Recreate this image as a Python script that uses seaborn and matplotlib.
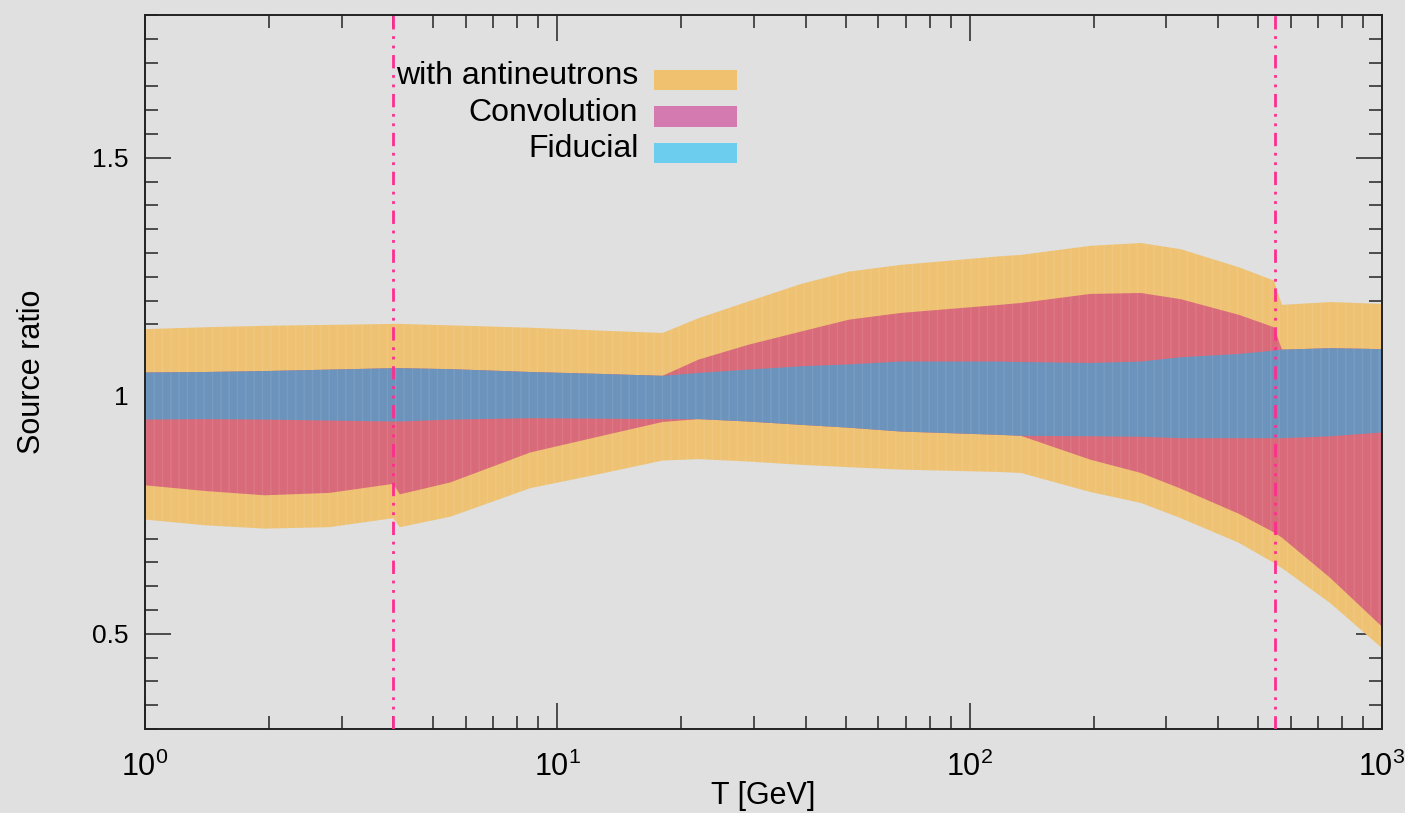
import numpy as np
import pandas as pd
import matplotlib
matplotlib.use("Agg")
import matplotlib.pyplot as plt
import seaborn as sns
from matplotlib.patches import Patch, Rectangle
from matplotlib.legend_handler import HandlerPatch
from matplotlib.ticker import LogLocator, MultipleLocator, FuncFormatter, NullFormatter, FixedLocator

# ---------------- data ----------------
T = [1, 1.4, 1.95, 2.8, 4.0, 4.15, 5.5, 8.6, 12.7, 18, 22, 29, 39, 51, 68,
     118, 133, 196, 260, 325, 450, 547, 572, 750, 1000]

ant_hi = [1.140, 1.144, 1.147, 1.149, 1.151, 1.151, 1.148, 1.143, 1.137, 1.132,
          1.163, 1.198, 1.235, 1.261, 1.275, 1.293, 1.296, 1.315, 1.321, 1.308,
          1.270, 1.242, 1.191, 1.197, 1.193]
ant_lo = [0.740, 0.728, 0.721, 0.724, 0.743, 0.724, 0.746, 0.806, 0.836, 0.864,
          0.867, 0.862, 0.855, 0.850, 0.845, 0.840, 0.838, 0.798, 0.775, 0.743,
          0.691, 0.649, 0.638, 0.564, 0.470]

conv_hi = [1.049, 1.050, 1.052, 1.055, 1.058, 1.058, 1.056, 1.050, 1.046, 1.042,
           1.076, 1.107, 1.135, 1.160, 1.174, 1.191, 1.195, 1.214, 1.216, 1.203,
           1.170, 1.144, 1.097, 1.100, 1.098]
conv_lo = [0.812, 0.800, 0.791, 0.796, 0.815, 0.793, 0.818, 0.881, 0.915, 0.945,
           0.951, 0.946, 0.939, 0.933, 0.925, 0.918, 0.916, 0.866, 0.838, 0.805,
           0.752, 0.713, 0.702, 0.617, 0.515]

fid_hi = [1.049, 1.050, 1.052, 1.055, 1.058, 1.058, 1.056, 1.050, 1.046, 1.042,
          1.048, 1.055, 1.062, 1.066, 1.072, 1.072, 1.071, 1.069, 1.072, 1.081,
          1.088, 1.095, 1.097, 1.100, 1.098]
fid_lo = [0.950, 0.951, 0.950, 0.948, 0.946, 0.946, 0.950, 0.953, 0.952, 0.951,
          0.951, 0.946, 0.939, 0.933, 0.925, 0.918, 0.916, 0.915, 0.914, 0.911,
          0.911, 0.911, 0.911, 0.915, 0.923]

vline_T = [4.0, 550.0]
legend_labels = ["with antineutrons", "Convolution", "Fiducial"]
y_major = [0.5, 1.0, 1.5]

# ---------------- style ----------------
BG = "#dfe0df"
band_colors = ["#eec272", "#d96a7a", "#6b93bb"]
legend_colors = ["#f0c270", "#d47ab1", "#6dcdef"]
VLINE = "#ff2d8f"

sns.set_theme(style="ticks", rc={
    "axes.facecolor": BG, "figure.facecolor": BG,
    "axes.edgecolor": "#222222", "axes.linewidth": 1.4,
    "text.color": "black", "axes.labelcolor": "black",
    "xtick.color": "#333333", "ytick.color": "#333333",
})
plt.rcParams["font.family"] = ["Liberation Sans", "DejaVu Sans"]
plt.rcParams["mathtext.fontset"] = "custom"
plt.rcParams["mathtext.rm"] = "Liberation Sans"
plt.rcParams["mathtext.it"] = "Liberation Sans"
plt.rcParams["mathtext.default"] = "regular"
plt.rcParams["hatch.linewidth"] = 1.0

fig, ax = plt.subplots(figsize=(14.05, 8.13), dpi=100)
fig.subplots_adjust(left=145 / 1405, right=1382 / 1405, top=1 - 15 / 813, bottom=1 - 729 / 813)

df = pd.DataFrame({"T": T, "ant_lo": ant_lo, "ant_hi": ant_hi,
                   "conv_lo": conv_lo, "conv_hi": conv_hi,
                   "fid_lo": fid_lo, "fid_hi": fid_hi})

for (lo, hi), col in zip([("ant_lo", "ant_hi"), ("conv_lo", "conv_hi"), ("fid_lo", "fid_hi")],
                         band_colors):
    ax.fill_between(df["T"], df[lo], df[hi], facecolor=col,
                    edgecolor=(1, 1, 1, 0.09), hatch="||", linewidth=0, zorder=2)

for xv in vline_T:
    ax.axvline(xv, color=VLINE, lw=2.0, dashes=(4.8, 2.4, 1.0, 2.4, 1.0, 2.4), zorder=3)

ax.set_xscale("log")
ax.set_xlim(1, 1000)
ax.set_ylim(0.3, 1.8)

ax.xaxis.set_major_locator(LogLocator(base=10, numticks=10))
ax.xaxis.set_minor_locator(LogLocator(base=10, subs=np.arange(2, 10), numticks=100))
ax.xaxis.set_minor_formatter(NullFormatter())
ax.yaxis.set_major_locator(FixedLocator(y_major))
ax.yaxis.set_minor_locator(MultipleLocator(0.05))
ax.yaxis.set_major_formatter(FuncFormatter(lambda v, p: f"{v:g}"))

ax.tick_params(which="both", direction="in", top=True, right=True, colors="#333333")
ax.tick_params(which="major", length=18.5, width=1.2)
ax.tick_params(which="minor", length=9.5, width=1.2)
ax.tick_params(axis="x", which="major", labelsize=22, pad=16, labelcolor="black")
ax.tick_params(axis="y", which="major", labelsize=19, pad=12, labelcolor="black")

ax.set_xlabel("T [GeV]", fontsize=22, color="black", labelpad=-1)
ax.set_ylabel("Source ratio", fontsize=22, color="black")
ax.yaxis.set_label_coords(-0.079, 0.5)

for s in ax.spines.values():
    s.set_visible(True)


def lowered_rect(legend, orig_handle, xdescent, ydescent, width, height, fontsize):
    return Rectangle((-xdescent, -ydescent - 0.22 * fontsize), width, height)


handles = [Patch(facecolor=c, edgecolor="none") for c in legend_colors]
ax.legend(handles, legend_labels, loc="upper left", bbox_to_anchor=(0.203, 0.935),
          frameon=False, markerfirst=False, fontsize=23, handlelength=2.6,
          handleheight=0.6, labelspacing=0.2, handletextpad=0.5,
          borderpad=0, borderaxespad=0,
          handler_map={Patch: HandlerPatch(patch_func=lowered_rect)})

fig.savefig("out.png", dpi=100, facecolor=BG)
